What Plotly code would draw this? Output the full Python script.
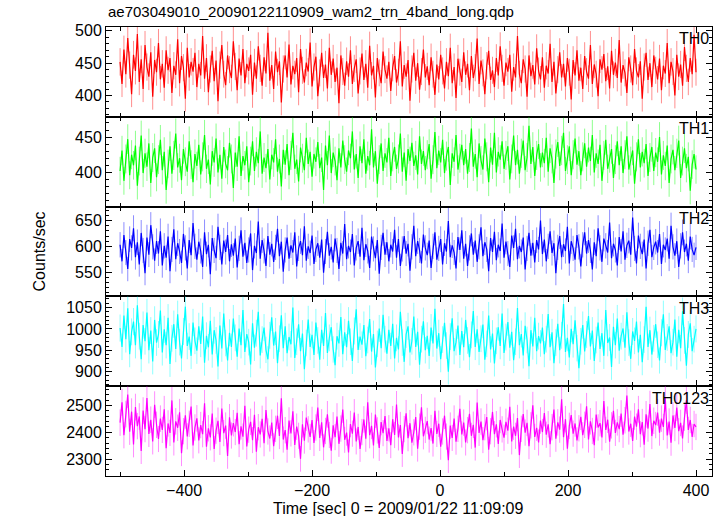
import numpy as np
import plotly.graph_objects as go
from plotly.subplots import make_subplots

# time bins (s), 0 = 2009/01/22 11:09:09
t_start = -500
t_step = 3
n_bins = 301
time = t_start + t_step * np.arange(n_bins)

th0 = [452, 418, 471, 433, 489, 447, 402, 463, 438, 495, 421, 456, 410, 478, 444, 429, 467, 398, 455, 436,
       481, 425, 449, 412, 470, 439, 458, 404, 446, 432, 487, 419, 461, 443, 395, 474, 428, 452, 437, 466,
       413, 449, 431, 492, 426, 458, 405, 441, 469, 422, 454, 391, 447, 478, 433, 416, 462, 440, 427, 484,
       445, 408, 457, 431, 472, 419, 449, 438, 463, 401, 451, 426, 476, 442, 415, 459, 434, 497, 423, 447,
       410, 468, 436, 453, 389, 441, 462, 428, 479, 417, 446, 433, 458, 405, 472, 439, 420, 451, 437, 482,
       414, 444, 460, 399, 435, 466, 427, 448, 411, 474, 432, 457, 421, 443, 388, 462, 437, 415, 453, 429,
       470, 418, 442, 456, 403, 438, 465, 424, 449, 412, 477, 431, 446, 397, 458, 435, 419, 468, 440, 426,
       452, 407, 443, 461, 420, 436, 484, 414, 447, 429, 455, 392, 441, 466, 423, 450, 409, 437, 471, 428,
       445, 416, 459, 433, 401, 448, 425, 463, 438, 411, 452, 430, 474, 419, 444, 396, 457, 436, 421, 467,
       432, 449, 408, 461, 427, 443, 488, 418, 454, 435, 402, 446, 469, 424, 439, 413, 458, 431, 476, 442,
       415, 451, 437, 463, 406, 444, 428, 492, 433, 419, 456, 441, 398, 462, 430, 447, 417, 473, 438, 425,
       459, 412, 446, 434, 480, 421, 452, 403, 440, 467, 428, 449, 414, 458, 436, 394, 455, 431, 470, 423,
       443, 410, 461, 437, 426, 478, 418, 448, 433, 399, 456, 440, 464, 422, 445, 411, 469, 432, 451, 427,
       486, 420, 447, 435, 404, 459, 441, 416, 472, 438, 428, 453, 395, 444, 466, 424, 450, 413, 462, 439,
       425, 457, 408, 446, 434, 481, 419, 452, 437, 400, 463, 429, 448, 415, 475, 442, 421, 458, 433, 494,
       436]

th1 = [402, 431, 388, 419, 447, 396, 425, 410, 438, 381, 416, 452, 399, 427, 408, 441, 385, 421, 434, 393,
       418, 446, 403, 429, 375, 412, 437, 398, 424, 455, 407, 420, 389, 433, 415, 401, 444, 411, 386, 426,
       409, 439, 397, 422, 453, 405, 418, 383, 430, 414, 448, 400, 425, 391, 436, 412, 403, 442, 419, 378,
       428, 408, 451, 395, 423, 410, 437, 386, 416, 444, 402, 429, 413, 458, 398, 421, 406, 433, 390, 425,
       414, 447, 401, 419, 380, 432, 411, 440, 396, 424, 456, 405, 418, 387, 435, 420, 403, 449, 412, 429,
       394, 426, 415, 443, 406, 421, 375, 438, 410, 452, 399, 428, 416, 389, 434, 407, 445, 418, 401, 431,
       420, 458, 404, 426, 392, 437, 413, 447, 398, 423, 410, 461, 407, 430, 384, 418, 441, 402, 427, 414,
       449, 395, 422, 436, 405, 419, 455, 401, 428, 388, 433, 416, 442, 409, 424, 397, 451, 412, 430, 403,
       425, 440, 391, 418, 457, 406, 431, 414, 446, 399, 423, 436, 382, 427, 415, 453, 404, 420, 439, 410,
       433, 398, 421, 462, 408, 426, 393, 441, 417, 404, 448, 422, 386, 435, 411, 456, 400, 429, 418, 444,
       405, 424, 437, 390, 419, 452, 410, 432, 398, 427, 445, 403, 421, 466, 412, 436, 395, 424, 440, 407,
       428, 413, 449, 401, 434, 419, 385, 426, 443, 409, 431, 456, 402, 418, 437, 396, 425, 448, 411, 430,
       396, 422, 441, 408, 435, 416, 453, 400, 427, 412, 439, 388, 424, 446, 405, 420, 433, 392, 418, 444,
       410, 437, 399, 425, 451, 404, 416, 431, 384, 422, 447, 407, 429, 413, 440, 395, 421, 436, 402, 428,
       415, 450, 397, 424, 409, 438, 385, 419, 432, 403, 427, 445, 392, 416, 434, 406, 422, 374, 411, 426,
       404]

th2 = [603, 571, 622, 588, 556, 614, 597, 635, 579, 608, 565, 626, 592, 548, 617, 584, 641, 599, 572, 610,
       586, 629, 563, 601, 578, 619, 552, 594, 633, 575, 606, 590, 568, 624, 597, 557, 612, 583, 645, 600,
       574, 609, 591, 560, 627, 585, 603, 546, 616, 592, 577, 638, 598, 565, 611, 589, 622, 571, 604, 582,
       615, 559, 596, 631, 580, 607, 568, 593, 625, 554, 601, 587, 648, 576, 612, 591, 562, 620, 584, 605,
       570, 598, 634, 581, 609, 551, 593, 617, 576, 602, 588, 627, 561, 596, 610, 583, 639, 572, 600, 587,
       621, 566, 594, 606, 578, 613, 549, 590, 628, 582, 599, 569, 615, 592, 556, 607, 586, 643, 575, 601,
       589, 624, 563, 597, 610, 580, 636, 573, 604, 591, 558, 619, 595, 577, 612, 547, 598, 626, 584, 608,
       571, 603, 590, 632, 578, 614, 562, 595, 620, 586, 605, 553, 599, 640, 581, 610, 592, 567, 623, 597,
       583, 611, 558, 600, 627, 574, 596, 614, 565, 606, 590, 649, 579, 602, 588, 557, 618, 593, 631, 576,
       605, 562, 597, 625, 584, 611, 570, 599, 637, 581, 608, 594, 552, 616, 589, 628, 573, 603, 591, 644,
       578, 609, 586, 560, 621, 597, 634, 575, 601, 589, 617, 555, 596, 626, 582, 607, 569, 612, 594, 650,
       585, 613, 571, 600, 629, 587, 606, 548, 598, 620, 579, 604, 591, 638, 567, 610, 596, 574, 622, 599,
       561, 603, 627, 586, 612, 592, 555, 608, 581, 635, 597, 570, 615, 601, 588, 646, 577, 605, 593, 563,
       618, 590, 629, 574, 602, 611, 584, 656, 596, 567, 621, 600, 585, 613, 557, 606, 632, 579, 598, 609,
       588, 624, 566, 603, 593, 615, 576, 640, 599, 582, 610, 560, 601, 627, 589, 605, 572, 619, 594, 583,
       598]

th3 = [1002, 958, 1031, 976, 1048, 941, 993, 1017, 962, 1055, 983, 929, 1009, 971, 1038, 950, 996, 924, 1021, 968,
       987, 1043, 945, 999, 962, 1026, 918, 978, 1011, 953, 1034, 969, 931, 994, 1052, 960, 982, 937, 1015, 972,
       949, 1006, 965, 1029, 921, 984, 957, 1019, 940, 997, 973, 912, 1008, 954, 1036, 967, 926, 991, 958, 1024,
       979, 935, 1001, 962, 1044, 946, 988, 969, 917, 1013, 956, 990, 1040, 938, 975, 1003, 951, 929, 985, 1027,
       961, 994, 920, 977, 1032, 955, 1006, 943, 981, 964, 1050, 932, 970, 1011, 948, 989, 906, 967, 1022, 958,
       986, 939, 1015, 973, 928, 998, 960, 1037, 944, 979, 1004, 952, 915, 983, 966, 1028, 941, 992, 957, 1019,
       970, 925, 995, 1046, 951, 982, 963, 1009, 936, 974, 1023, 947, 988, 910, 965, 1001, 955, 1033, 976, 942,
       998, 960, 1012, 931, 979, 952, 1040, 968, 923, 987, 1006, 945, 971, 1029, 958, 993, 916, 976, 1018, 950,
       984, 937, 1003, 966, 1047, 954, 990, 929, 975, 1014, 961, 900, 982, 1025, 948, 969, 1008, 939, 995, 957,
       1021, 973, 934, 986, 1042, 958, 999, 946, 977, 1010, 928, 965, 1031, 952, 989, 919, 972, 1004, 960, 1036,
       944, 981, 1016, 956, 993, 927, 970, 1049, 962, 988, 938, 1007, 974, 913, 997, 959, 1026, 948, 983, 966,
       1003, 941, 976, 1035, 957, 992, 920, 968, 1012, 950, 985, 1058, 946, 979, 933, 1000, 964, 1020, 955, 908,
       971, 1009, 947, 987, 1030, 959, 996, 925, 974, 1015, 953, 990, 937, 1044, 967, 980, 911, 1005, 962, 1024,
       949, 983, 1001, 956, 1039, 968, 930, 994, 972, 1017, 945, 986, 922, 975, 1052, 958, 997, 940, 978, 1011,
       963, 926, 991, 1034, 951, 980, 1006, 943, 969, 1022, 935, 998, 955, 1041, 973, 914, 987, 1013, 948, 976,
       1000]

th0123 = [2436, 2512, 2389, 2468, 2541, 2402, 2477, 2355, 2494, 2423, 2459, 2330, 2481, 2412, 2528, 2394, 2447, 2366, 2503, 2428,
          2375, 2451, 2409, 2486, 2341, 2433, 2398, 2519, 2362, 2441, 2417, 2475, 2322, 2404, 2463, 2385, 2432, 2496, 2351, 2418,
          2452, 2370, 2427, 2393, 2508, 2346, 2415, 2381, 2470, 2338, 2406, 2443, 2364, 2489, 2397, 2425, 2312, 2456, 2388, 2434,
          2401, 2473, 2356, 2422, 2384, 2499, 2347, 2410, 2439, 2371, 2465, 2328, 2419, 2392, 2450, 2359, 2483, 2403, 2377, 2436,
          2348, 2413, 2462, 2386, 2527, 2373, 2408, 2335, 2444, 2396, 2478, 2353, 2421, 2387, 2301, 2430, 2369, 2455, 2411, 2383,
          2446, 2360, 2418, 2492, 2379, 2437, 2344, 2405, 2467, 2390, 2331, 2426, 2382, 2459, 2357, 2414, 2485, 2372, 2399, 2325,
          2431, 2395, 2474, 2366, 2420, 2338, 2401, 2448, 2376, 2512, 2389, 2424, 2351, 2466, 2407, 2342, 2438, 2397, 2461, 2368,
          2415, 2352, 2449, 2390, 2504, 2381, 2427, 2319, 2412, 2471, 2378, 2434, 2361, 2400, 2457, 2339, 2421, 2493, 2385, 2409,
          2442, 2373, 2416, 2358, 2480, 2394, 2432, 2346, 2403, 2462, 2384, 2296, 2425, 2379, 2451, 2365, 2413, 2488, 2392, 2436,
          2362, 2408, 2469, 2387, 2428, 2343, 2511, 2398, 2440, 2371, 2419, 2457, 2335, 2404, 2476, 2393, 2430, 2357, 2446, 2411,
          2380, 2439, 2406, 2495, 2366, 2421, 2387, 2453, 2315, 2413, 2468, 2399, 2435, 2348, 2426, 2501, 2383, 2417, 2362, 2444,
          2401, 2472, 2391, 2430, 2356, 2419, 2485, 2376, 2437, 2410, 2523, 2382, 2449, 2339, 2424, 2464, 2395, 2433, 2370, 2415,
          2458, 2389, 2428, 2497, 2373, 2441, 2405, 2352, 2466, 2418, 2434, 2381, 2517, 2409, 2447, 2365, 2426, 2480, 2398, 2437,
          2412, 2470, 2391, 2445, 2537, 2403, 2432, 2368, 2459, 2421, 2486, 2393, 2438, 2354, 2467, 2414, 2505, 2386, 2443, 2427,
          2474, 2399, 2451, 2420, 2528, 2388, 2440, 2361, 2463, 2416, 2492, 2404, 2435, 2377, 2455, 2519, 2409, 2446, 2383, 2431,
          2420]

band_names = ["TH0", "TH1", "TH2", "TH3", "TH0123"]
band_values = [th0, th1, th2, th3, th0123]
band_colors = ["#ff0000", "#00ff00", "#0000ff", "#00ffff", "#ff00ff"]
band_err_colors = ["rgba(255,0,0,0.45)", "rgba(0,255,0,0.45)", "rgba(0,0,255,0.45)",
                   "rgba(0,255,255,0.45)", "rgba(255,0,255,0.45)"]
y_ranges = [[367, 506], [351.5, 478.7], [503, 677], [866, 1076], [2237, 2572]]
y_dticks = [50, 50, 50, 50, 100]
y_minor = [10, 10, 10, 10, 20]
x_range = [-522, 425]

title_text = "ae703049010_20090122110909_wam2_trn_4band_long.qdp"
x_title = "Time [sec] 0 = 2009/01/22 11:09:09"
y_title = "Counts/sec"

FONT = "Liberation Sans, Arial, Helvetica, sans-serif"

fig = make_subplots(rows=5, cols=1, shared_xaxes=True, vertical_spacing=0)

for i, (name, vals, col, ecol) in enumerate(zip(band_names, band_values, band_colors, band_err_colors)):
    v = np.array(vals, dtype=float)
    fig.add_trace(go.Scatter(
        x=time, y=v, mode="lines", name=name,
        line=dict(color=col, width=1.2),
        error_y=dict(type="data", array=np.sqrt(v), color=ecol, thickness=1, width=0),
        showlegend=False, hoverinfo="x+y"),
        row=i + 1, col=1)
    fig.update_yaxes(
        range=y_ranges[i], dtick=y_dticks[i], tick0=0,
        ticks="inside", ticklen=6, tickwidth=1, tickcolor="black",
        minor=dict(ticks="inside", ticklen=3, dtick=y_minor[i], tickcolor="black", tickwidth=1),
        showline=True, linecolor="black", linewidth=1, mirror="allticks",
        showgrid=False, zeroline=False,
        tickfont=dict(family=FONT, size=16, color="black"),
        row=i + 1, col=1)
    fig.update_xaxes(
        range=x_range, dtick=200, tick0=0,
        ticks="inside", ticklen=6, tickwidth=1, tickcolor="black",
        minor=dict(ticks="inside", ticklen=4, dtick=100, tickcolor="black", tickwidth=1),
        showline=True, linecolor="black", linewidth=1, mirror="allticks",
        showgrid=False, zeroline=False,
        tickfont=dict(family=FONT, size=16, color="black"),
        row=i + 1, col=1)
    # band label, top-right inside the panel
    yref = "y domain" if i == 0 else f"y{i + 1} domain"
    xref = "x domain" if i == 0 else f"x{i + 1} domain"
    fig.add_annotation(text=name, xref=xref, yref=yref, x=0.998, y=0.985,
                       xanchor="right", yanchor="top", showarrow=False,
                       font=dict(family=FONT, size=16, color="black"))

fig.add_annotation(text=title_text, xref="paper", yref="paper", x=0, y=1.034,
                   xanchor="left", yanchor="middle", showarrow=False,
                   font=dict(family=FONT, size=15, color="black"))
fig.add_annotation(text=x_title, xref="paper", yref="paper", x=0.482, y=-0.0715,
                   xanchor="center", yanchor="middle", showarrow=False,
                   font=dict(family=FONT, size=16, color="black"))
fig.add_annotation(text=y_title, xref="paper", yref="paper", x=-0.109, y=0.5,
                   xanchor="center", yanchor="middle", textangle=-90, showarrow=False,
                   font=dict(family=FONT, size=16, color="black"))

fig.update_layout(
    width=723, height=516,
    margin=dict(l=106, r=11, t=27, b=40),
    paper_bgcolor="white", plot_bgcolor="white",
    font=dict(family=FONT, size=16, color="black"),
)

fig.write_html("out.html",
               config={"displayModeBar": False},
               post_script="document.body.style.margin='0';document.body.style.padding='0';document.body.style.overflow='hidden';")
